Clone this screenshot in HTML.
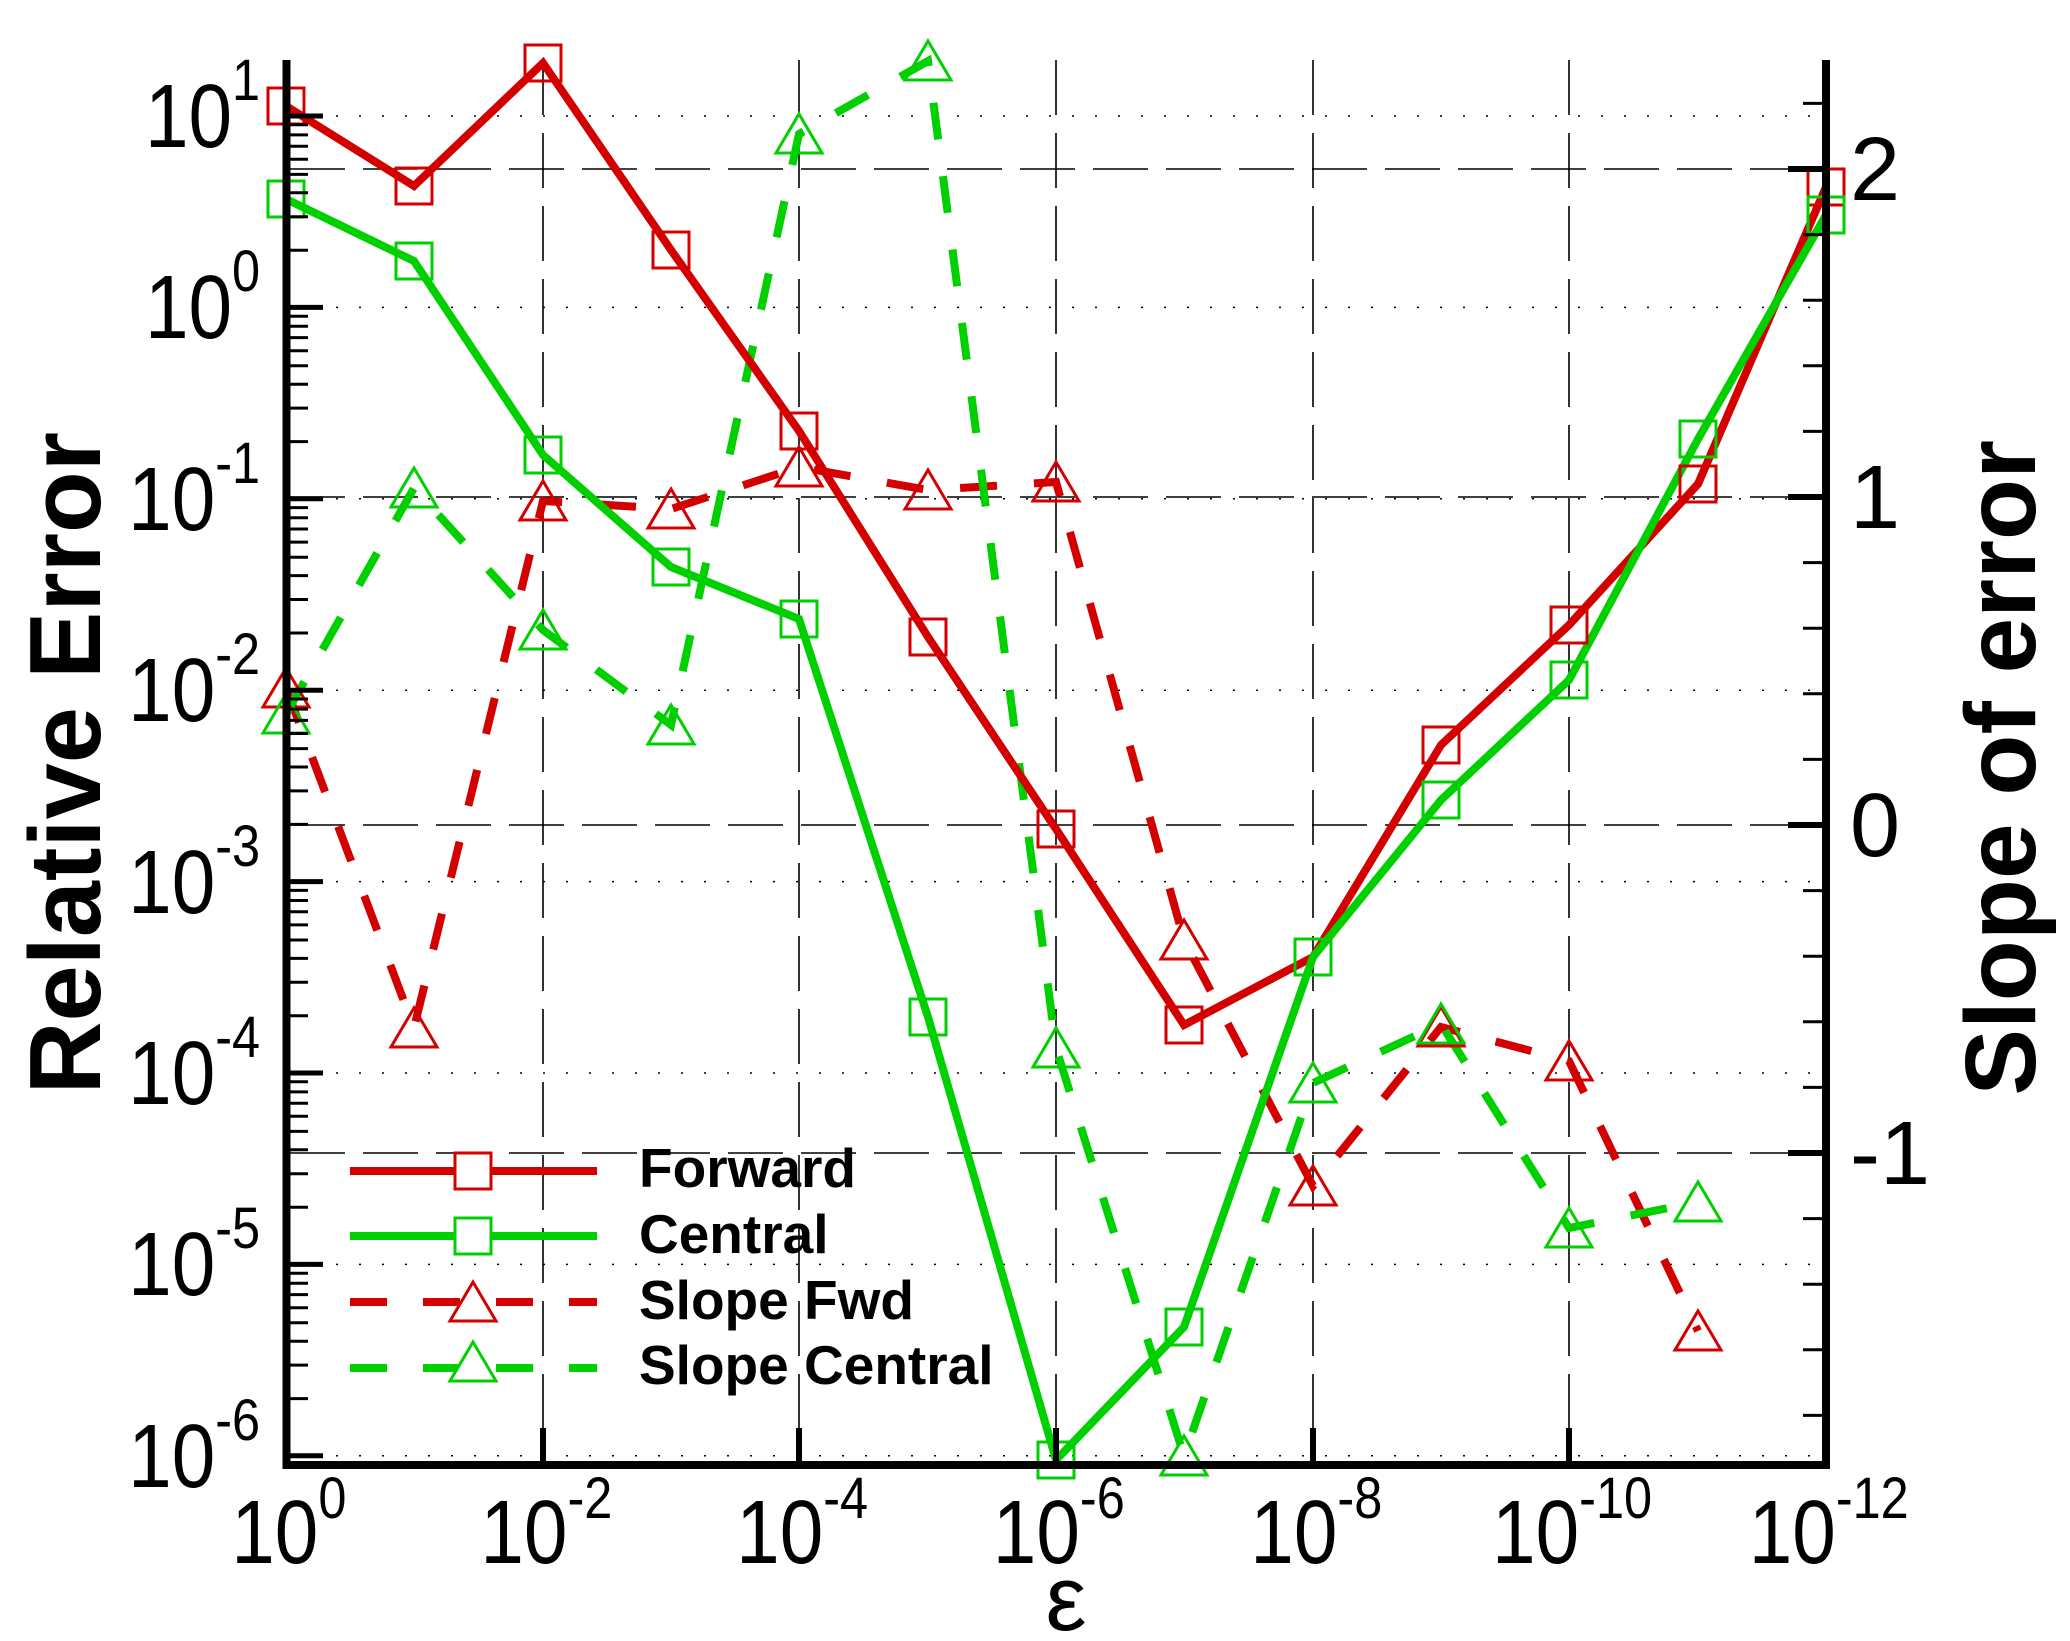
<!DOCTYPE html>
<html><head><meta charset="utf-8"><style>
html,body{margin:0;padding:0;background:#fff;}
svg{display:block;font-family:"Liberation Sans",Arial,sans-serif;}
</style></head><body>
<svg width="2070" height="1641" viewBox="0 0 2070 1641" xmlns="http://www.w3.org/2000/svg">
<rect width="2070" height="1641" fill="#fff"/>
<g stroke="#000" stroke-width="1.5" stroke-dasharray="2 21" fill="none">
<line x1="290" y1="116" x2="1822" y2="116"/>
<line x1="290" y1="307.4" x2="1822" y2="307.4"/>
<line x1="290" y1="498.8" x2="1822" y2="498.8"/>
<line x1="290" y1="690.2" x2="1822" y2="690.2"/>
<line x1="290" y1="881.6" x2="1822" y2="881.6"/>
<line x1="290" y1="1073" x2="1822" y2="1073"/>
<line x1="290" y1="1264.4" x2="1822" y2="1264.4"/>
<line x1="290" y1="1455.8" x2="1822" y2="1455.8"/>
</g>
<g stroke="#000" stroke-width="1.6" stroke-dasharray="55 18" fill="none">
<line x1="290" y1="169" x2="1822" y2="169"/>
<line x1="290" y1="497" x2="1822" y2="497"/>
<line x1="290" y1="825" x2="1822" y2="825"/>
<line x1="290" y1="1153" x2="1822" y2="1153"/>
<line x1="543" y1="60" x2="543" y2="1462"/>
<line x1="799" y1="60" x2="799" y2="1462"/>
<line x1="1056" y1="60" x2="1056" y2="1462"/>
<line x1="1313" y1="60" x2="1313" y2="1462"/>
<line x1="1569" y1="60" x2="1569" y2="1462"/>
</g>
<g fill="none" stroke-width="8" stroke-linejoin="miter">
<polyline stroke="#d40000" stroke-dasharray="37 37" points="286,688 414,1028 543,501 671,509 799,467 928,490 1056,482 1184,940 1313,1186 1441,1027 1569,1061 1698,1331"/>
<polyline stroke="#00d000" stroke-dasharray="37 37" points="286,714 414,488 543,630 671,725 799,134 928,61 1056,1048 1184,1456 1313,1083 1441,1024 1569,1228 1698,1202"/>
<polyline stroke="#d40000" points="286,106 414,186 543,63 671,250 799,431 928,637 1056,829 1184,1025 1313,957 1441,745 1569,625 1698,484 1826,187"/>
<polyline stroke="#00d000" points="286,199 414,261 543,455 671,567 799,619 928,1017 1056,1460 1184,1327 1313,957 1441,800 1569,680 1698,439 1826,215"/>
</g>
<g fill="none" stroke-width="3">
<g stroke="#d40000">
<rect x="268" y="88" width="36" height="36"/><rect x="396" y="168" width="36" height="36"/><rect x="525" y="45" width="36" height="36"/><rect x="653" y="232" width="36" height="36"/><rect x="781" y="413" width="36" height="36"/><rect x="910" y="619" width="36" height="36"/><rect x="1038" y="811" width="36" height="36"/><rect x="1166" y="1007" width="36" height="36"/><rect x="1295" y="939" width="36" height="36"/><rect x="1423" y="727" width="36" height="36"/><rect x="1551" y="607" width="36" height="36"/><rect x="1680" y="466" width="36" height="36"/><rect x="1808" y="169" width="36" height="36"/>
</g>
<g stroke="#00d000">
<rect x="268" y="181" width="36" height="36"/><rect x="396" y="243" width="36" height="36"/><rect x="525" y="437" width="36" height="36"/><rect x="653" y="549" width="36" height="36"/><rect x="781" y="601" width="36" height="36"/><rect x="910" y="999" width="36" height="36"/><rect x="1038" y="1442" width="36" height="36"/><rect x="1166" y="1309" width="36" height="36"/><rect x="1295" y="939" width="36" height="36"/><rect x="1423" y="782" width="36" height="36"/><rect x="1551" y="662" width="36" height="36"/><rect x="1680" y="421" width="36" height="36"/><rect x="1808" y="197" width="36" height="36"/>
</g>
<g stroke="#d40000">
<path d="M286,668 l23,39 h-46 z M414,1008 l23,39 h-46 z M543,481 l23,39 h-46 z M671,489 l23,39 h-46 z M799,447 l23,39 h-46 z M928,470 l23,39 h-46 z M1056,462 l23,39 h-46 z M1184,920 l23,39 h-46 z M1313,1166 l23,39 h-46 z M1441,1007 l23,39 h-46 z M1569,1041 l23,39 h-46 z M1698,1311 l23,39 h-46 z"/>
</g>
<g stroke="#00d000">
<path d="M286,694 l23,39 h-46 z M414,468 l23,39 h-46 z M543,610 l23,39 h-46 z M671,705 l23,39 h-46 z M799,114 l23,39 h-46 z M928,41 l23,39 h-46 z M1056,1028 l23,39 h-46 z M1184,1436 l23,39 h-46 z M1313,1063 l23,39 h-46 z M1441,1004 l23,39 h-46 z M1569,1208 l23,39 h-46 z M1698,1182 l23,39 h-46 z"/>
</g>
</g>
<g fill="none" stroke-width="8">
<line x1="350" y1="1171" x2="597" y2="1171" stroke="#d40000"/>
<line x1="350" y1="1236" x2="597" y2="1236" stroke="#00d000"/>
<line x1="350" y1="1302" x2="597" y2="1302" stroke="#d40000" stroke-dasharray="37 36"/>
<line x1="350" y1="1368" x2="597" y2="1368" stroke="#00d000" stroke-dasharray="37 36"/>
</g>
<g fill="#fff" stroke-width="3">
<rect x="455" y="1153" width="36" height="36" stroke="#d40000"/>
<rect x="455" y="1218" width="36" height="36" stroke="#00d000"/>
<path d="M473,1282 l23,39 h-46 z" stroke="#d40000"/>
<path d="M473,1342 l23,39 h-46 z" stroke="#00d000"/>
</g>
<g font-weight="bold" font-size="55" fill="#000">
<text x="639" y="1187">Forward</text>
<text x="639" y="1253">Central</text>
<text x="639" y="1319">Slope Fwd</text>
<text x="639" y="1384">Slope Central</text>
</g>
<g stroke="#000" fill="none">
<line x1="286.5" y1="60" x2="286.5" y2="1469" stroke-width="8"/>
<line x1="1826" y1="60" x2="1826" y2="1469" stroke-width="8"/>
<line x1="283" y1="1465" x2="1830" y2="1465" stroke-width="8"/>
<g stroke-width="5">
<line x1="290" y1="116" x2="323" y2="116"/><line x1="290" y1="307.4" x2="323" y2="307.4"/><line x1="290" y1="498.8" x2="323" y2="498.8"/><line x1="290" y1="690.2" x2="323" y2="690.2"/><line x1="290" y1="881.6" x2="323" y2="881.6"/><line x1="290" y1="1073" x2="323" y2="1073"/><line x1="290" y1="1264.4" x2="323" y2="1264.4"/><line x1="290" y1="1455.8" x2="323" y2="1455.8"/>
</g>
<g stroke-width="6">
<line x1="1788" y1="169" x2="1822" y2="169"/><line x1="1788" y1="497" x2="1822" y2="497"/><line x1="1788" y1="825" x2="1822" y2="825"/><line x1="1788" y1="1153" x2="1822" y2="1153"/>
</g>
<g stroke-width="6">
<line x1="543" y1="1461" x2="543" y2="1428"/><line x1="799" y1="1461" x2="799" y2="1428"/><line x1="1056" y1="1461" x2="1056" y2="1428"/><line x1="1313" y1="1461" x2="1313" y2="1428"/><line x1="1569" y1="1461" x2="1569" y2="1428"/>
</g>
<g stroke-width="3">
<line x1="1803" y1="103.4" x2="1822" y2="103.4"/><line x1="1803" y1="234.6" x2="1822" y2="234.6"/><line x1="1803" y1="300.2" x2="1822" y2="300.2"/><line x1="1803" y1="365.8" x2="1822" y2="365.8"/><line x1="1803" y1="431.4" x2="1822" y2="431.4"/><line x1="1803" y1="562.6" x2="1822" y2="562.6"/><line x1="1803" y1="628.2" x2="1822" y2="628.2"/><line x1="1803" y1="693.8" x2="1822" y2="693.8"/><line x1="1803" y1="759.4" x2="1822" y2="759.4"/><line x1="1803" y1="890.6" x2="1822" y2="890.6"/><line x1="1803" y1="956.2" x2="1822" y2="956.2"/><line x1="1803" y1="1021.8" x2="1822" y2="1021.8"/><line x1="1803" y1="1087.4" x2="1822" y2="1087.4"/><line x1="1803" y1="1218.6" x2="1822" y2="1218.6"/><line x1="1803" y1="1284.2" x2="1822" y2="1284.2"/><line x1="1803" y1="1349.8" x2="1822" y2="1349.8"/><line x1="1803" y1="1415.4" x2="1822" y2="1415.4"/>
</g>
<g stroke-width="3">
<path d="M290,124.8h18M290,134.9h18M290,146.2h18M290,159.3h18M290,174.4h18M290,192.8h18M290,216.7h18M290,250.2h18
M290,316.2h18M290,326.3h18M290,337.6h18M290,350.7h18M290,365.8h18M290,384.2h18M290,408.1h18M290,441.6h18
M290,507.6h18M290,517.7h18M290,529.0h18M290,542.1h18M290,557.2h18M290,575.6h18M290,599.5h18M290,633.0h18
M290,699.0h18M290,709.1h18M290,720.4h18M290,733.5h18M290,748.6h18M290,767.0h18M290,790.9h18M290,824.4h18
M290,890.4h18M290,900.5h18M290,911.8h18M290,924.9h18M290,940.0h18M290,958.4h18M290,982.3h18M290,1015.8h18
M290,1081.8h18M290,1091.9h18M290,1103.2h18M290,1116.3h18M290,1131.4h18M290,1149.8h18M290,1173.7h18M290,1207.2h18
M290,1273.2h18M290,1283.3h18M290,1294.6h18M290,1307.7h18M290,1322.8h18M290,1341.2h18M290,1365.1h18M290,1398.6h18"/>
</g>
</g>
<g fill="#000" font-size="90" text-anchor="end" transform="scale(0.87,1)">
<text x="299" y="147">10<tspan font-size="58" dy="-47">1</tspan></text>
<text x="299" y="338">10<tspan font-size="58" dy="-47">0</tspan></text>
<text x="299" y="530">10<tspan font-size="58" dy="-47">-1</tspan></text>
<text x="299" y="721">10<tspan font-size="58" dy="-47">-2</tspan></text>
<text x="299" y="913">10<tspan font-size="58" dy="-47">-3</tspan></text>
<text x="299" y="1104">10<tspan font-size="58" dy="-47">-4</tspan></text>
<text x="299" y="1295">10<tspan font-size="58" dy="-47">-5</tspan></text>
<text x="299" y="1487">10<tspan font-size="58" dy="-47">-6</tspan></text>
</g>
<g fill="#000" font-size="90" text-anchor="middle" transform="scale(0.87,1)">
<text x="332" y="1563">10<tspan font-size="58" dy="-45">0</tspan></text>
<text x="628" y="1563">10<tspan font-size="58" dy="-45">-2</tspan></text>
<text x="922" y="1563">10<tspan font-size="58" dy="-45">-4</tspan></text>
<text x="1217" y="1563">10<tspan font-size="58" dy="-45">-6</tspan></text>
<text x="1513" y="1563">10<tspan font-size="58" dy="-45">-8</tspan></text>
<text x="1807" y="1563">10<tspan font-size="58" dy="-45">-10</tspan></text>
<text x="2102" y="1563">10<tspan font-size="58" dy="-45">-12</tspan></text>
</g>
<g fill="#000" font-size="90">
<text x="1850" y="200">2</text>
<text x="1850" y="528">1</text>
<text x="1850" y="856">0</text>
<text x="1850" y="1184">-1</text>
</g>
<text x="1066" y="1630" font-size="92" text-anchor="middle" fill="#000">ε</text>
<text transform="translate(100,432) rotate(-90)" text-anchor="end" font-size="101" font-weight="bold" fill="#000">Relative Error</text>
<text transform="translate(2035,440) rotate(-90)" text-anchor="end" font-size="100" font-weight="bold" fill="#000">Slope of error</text>
</svg>
</body></html>
